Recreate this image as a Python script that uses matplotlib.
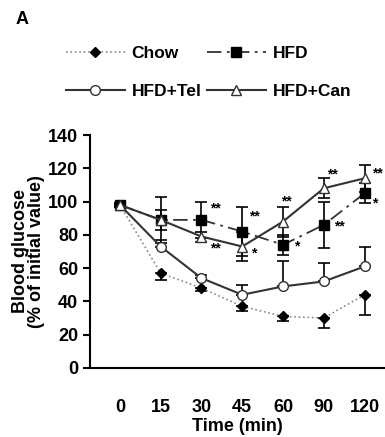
import numpy as np
import matplotlib
matplotlib.use('Agg')
import matplotlib.pyplot as plt
from matplotlib.lines import Line2D

plt.rcParams['font.family'] = ['Liberation Sans Narrow', 'Liberation Sans', 'DejaVu Sans']
plt.rcParams['font.weight'] = 'bold'

# data
times = ['0', '15', '30', '45', '60', '90', '120']
chow = [98, 57, 48, 37, 31, 30, 44]
chow_err = [1, 4, 2, 3, 3, 6, 12]
hfd = [98, 89, 89, 82, 74, 86, 105]
hfd_err = [1, 14, 11, 15, 6, 14, 6]
tel = [98, 73, 54, 44, 49, 52, 61]
tel_err = [1, 4, 2, 6, 15, 11, 12]
can = [98, 89, 79, 73, 88, 108, 114]
can_err = [1, 6, 3, 9, 9, 6, 8]

# significance marks (x position, y value, text)
sig_x = [2.33, 3.31, 2.33, 3.28, 4.09, 4.34, 5.2, 5.39, 6.32, 6.25]
sig_y = [96, 91, 72, 69, 100, 73, 116, 85, 117, 99]
sig_txt = ['**', '**', '**', '*', '**', '*', '**', '**', '**', '*']

x = np.arange(len(times))

fig = plt.figure(figsize=(3.85, 4.37), dpi=100)
ax = fig.add_axes([0.234, 0.158, 0.766, 0.533])

styles = {
    'Chow': dict(color='#888888', ls=':', lw=1.2, marker='D', ms=5, mfc='black', mec='black'),
    'HFD': dict(color='#333333', ls=(0, (8, 3, 1.5, 3)), lw=1.3, marker='s', ms=7, mfc='black', mec='black'),
    'HFD+Tel': dict(color='#333333', ls='-', lw=1.5, marker='o', ms=7, mfc='white', mec='#333333'),
    'HFD+Can': dict(color='#333333', ls='-', lw=1.5, marker='^', ms=7, mfc='white', mec='#333333'),
}

ek = dict(capsize=4, elinewidth=1.2, capthick=1.2, ecolor='black')
ax.errorbar(x, chow, yerr=[chow_err, np.zeros(7)], **styles['Chow'], **ek)
ax.errorbar(x, tel, yerr=[np.zeros(7), tel_err], **styles['HFD+Tel'], **ek)
ax.errorbar(x, hfd, yerr=hfd_err, **styles['HFD'], **ek)
ax.errorbar(x, can, yerr=can_err, **styles['HFD+Can'], **ek)

for sx, sy, st in zip(sig_x, sig_y, sig_txt):
    ax.text(sx, sy, st, fontsize=10, ha='center', va='center')

ax.set_xlim(-0.73, 6.5)
ax.set_ylim(0, 140)
ax.set_yticks(np.arange(0, 141, 20))
ax.set_xticks(x)
ax.set_xticklabels(times)
ax.tick_params(axis='x', length=0, pad=22, labelsize=13)
ax.tick_params(axis='y', direction='out', length=5, width=1.5, labelsize=13)
for s in ['top', 'right']:
    ax.spines[s].set_visible(False)
for s in ['left', 'bottom']:
    ax.spines[s].set_linewidth(1.5)
ax.set_ylabel('Blood glucose\n(% of initial value)', fontsize=13, fontweight='bold',
              labelpad=2, linespacing=0.95)
ax.set_xlabel('Time (min)', fontsize=13, fontweight='bold', labelpad=2)

order = ['Chow', 'HFD+Tel', 'HFD', 'HFD+Can']
handles = [Line2D([], [], **styles[k]) for k in order]
fig.legend(handles, order, ncol=2, frameon=False, loc='upper left',
           bbox_to_anchor=(0.13, 0.93), fontsize=12.5, handlelength=3.4,
           columnspacing=0.3, handletextpad=0.4, labelspacing=1.3)
fig.text(0.04, 0.955, 'A', fontsize=13, fontweight='bold', va='center')

fig.savefig('out.png', dpi=100)
